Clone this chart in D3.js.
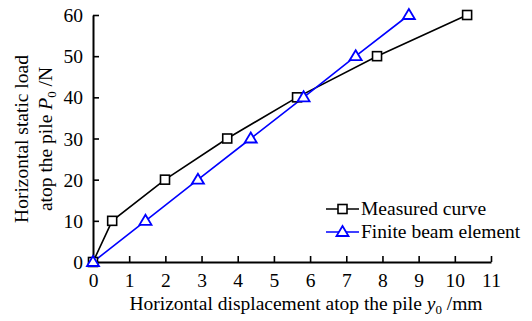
<!DOCTYPE html>
<html>
<head>
<meta charset="utf-8">
<script src="https://cdn.jsdelivr.net/npm/d3@7"></script>
<style>
  html, body { margin: 0; padding: 0; background: #fff; }
</style>
</head>
<body>
<svg id="chart" width="532" height="321"></svg>
<script>
// Horizontal load (N) applied at the pile head
const loads = [0, 10, 20, 30, 40, 50, 60];
// Head displacement (mm), measured in the test
const measuredDisp = [0, 0.53, 1.99, 3.71, 5.64, 7.85, 10.34];
// Head displacement (mm), finite beam element model
const fbeDisp = [0, 1.45, 2.90, 4.36, 5.82, 7.26, 8.73];
const xTicks = [0, 1, 2, 3, 4, 5, 6, 7, 8, 9, 10, 11];
const yTicks = [0, 10, 20, 30, 40, 50, 60];
const seriesNames = ["Measured curve", "Finite beam element"];

const FONT = "'Liberation Serif', 'Times New Roman', serif";
const FS = 19.5;

const svg = d3.select("#chart");
const plot = { left: 93, right: 491, top: 15, bottom: 262 };

const x = d3.scaleLinear().domain([0, 11]).range([plot.left, plot.right]);
const y = d3.scaleLinear().domain([0, 60]).range([plot.bottom, plot.top]);

// Axes with inward ticks
const xAxis = svg.append("g").attr("transform", `translate(0,${plot.bottom})`)
  .call(d3.axisBottom(x).tickValues(xTicks).tickSizeInner(-6).tickSizeOuter(0).tickPadding(11));
const yAxis = svg.append("g").attr("transform", `translate(${plot.left},0)`)
  .call(d3.axisLeft(y).tickValues(yTicks).tickSizeInner(-6).tickSizeOuter(0).tickPadding(10));
[xAxis, yAxis].forEach(g => {
  g.select(".domain").attr("stroke", "#000").attr("stroke-width", 2);
  g.selectAll(".tick line").attr("stroke", "#000").attr("stroke-width", 1.6);
  g.selectAll(".tick text").style("font-family", FONT).style("font-size", FS + "px").attr("fill", "#000");
});
xAxis.selectAll(".tick text").attr("dy", "0.71em");
yAxis.selectAll(".tick text").attr("dy", "0.34em");

const line = d3.line().x(d => x(d[0])).y(d => y(d[1]));

const series = [
  { name: seriesNames[0], color: "#000", pts: measuredDisp.map((d, i) => [d, loads[i]]), marker: "square" },
  { name: seriesNames[1], color: "#0000ff", pts: fbeDisp.map((d, i) => [d, loads[i]]), marker: "triangle" }
];

function drawMarker(g, cx, cy, s) {
  if (s.marker === "square") {
    g.append("rect").attr("x", cx - 4.5).attr("y", cy - 4.5).attr("width", 9).attr("height", 9)
      .attr("fill", "#fff").attr("stroke", s.color).attr("stroke-width", 1.6);
  } else {
    const h = 10, w = 12;
    g.append("path")
      .attr("d", `M${cx},${cy - h * 0.6}L${cx + w / 2},${cy + h * 0.4}L${cx - w / 2},${cy + h * 0.4}Z`)
      .attr("fill", "#fff").attr("stroke", s.color).attr("stroke-width", 1.8);
  }
}

series.forEach(s => {
  svg.append("path").datum(s.pts).attr("d", line)
    .attr("fill", "none").attr("stroke", s.color).attr("stroke-width", 1.6);
});
series.forEach(s => {
  const g = svg.append("g");
  s.pts.forEach(p => drawMarker(g, x(p[0]), y(p[1]), s));
});

function txt(sel) {
  return sel.style("font-family", FONT).style("font-size", FS + "px").attr("fill", "#000");
}

// Legend
series.forEach((s, i) => {
  const ly = 209 + i * 23;
  const g = svg.append("g");
  g.append("line").attr("x1", 326).attr("x2", 359).attr("y1", ly).attr("y2", ly)
    .attr("stroke", s.color).attr("stroke-width", 1.6);
  drawMarker(g, 342.5, ly, s);
  txt(g.append("text")).attr("x", 361).attr("y", ly + 6).text(s.name);
});

// Axis titles
const xt = txt(svg.append("text")).attr("x", 306).attr("y", 310).attr("text-anchor", "middle");
xt.append("tspan").text("Horizontal displacement atop the pile ");
xt.append("tspan").attr("font-style", "italic").text("y");
xt.append("tspan").style("font-size", "13px").attr("dy", 4).text("0");
xt.append("tspan").attr("dy", -4).text(" /mm");

const yt = svg.append("g").attr("transform", "translate(0,139) rotate(-90)");
txt(yt.append("text")).attr("x", 0).attr("y", 28).attr("text-anchor", "middle")
  .text("Horizontal static load");
const yt2 = txt(yt.append("text")).attr("x", 0).attr("y", 52).attr("text-anchor", "middle");
yt2.append("tspan").text("atop the pile ");
yt2.append("tspan").attr("font-style", "italic").text("P");
yt2.append("tspan").style("font-size", "13px").attr("dy", 4).text("0");
yt2.append("tspan").attr("dy", -4).text(" /N");
</script>
</body>
</html>
